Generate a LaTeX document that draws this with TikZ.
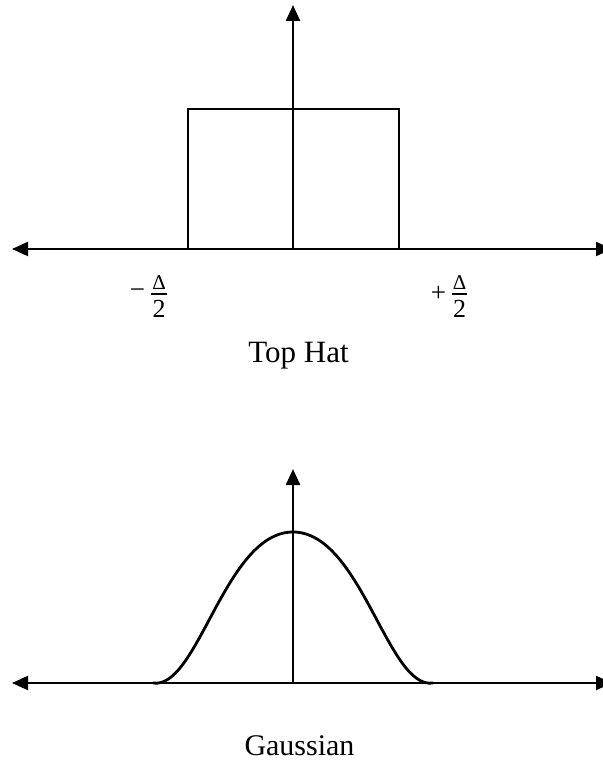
\documentclass[tikz,border=0pt]{standalone}
\usepackage{fontspec}
\setmainfont{Liberation Serif}
\usetikzlibrary{arrows.meta}
\begin{document}
\begin{tikzpicture}[x=1pt,y=-1pt,
  tip/.tip={Triangle[length=16pt,width=14pt]},
  axis/.style={line width=2pt,tip-tip},
  vaxis/.style={line width=2.4pt,-tip},
  curve/.style={line width=2.8pt},
  lbl/.style={inner sep=0pt,font=\fontsize{31}{34}\selectfont},
  num/.style={inner sep=0pt,font=\fontsize{26}{28}\selectfont},
  dlt/.style={inner sep=0pt,font=\fontsize{21}{22}\selectfont},
  sgn/.style={inner sep=0pt,font=\fontsize{27}{28}\selectfont},
  bar/.style={line width=1.3pt}]
\useasboundingbox (0,0) rectangle (602,765);
% ---- top hat ----
\coordinate (tl) at (12,249);
\coordinate (tr) at (612,249);
\coordinate (to) at (293,249);
\coordinate (tt) at (293,5);
\draw[axis] (tl) -- (tr);
\draw[vaxis] (to) -- (tt);
\coordinate (b1) at (188,249);
\coordinate (b2) at (188,109);
\coordinate (b3) at (399,109);
\coordinate (b4) at (399,249);
\draw[curve,line join=miter] (b1) -- (b2) -- (b3) -- (b4);
% -Delta/2
\node[sgn] (m) at (137.5,294) {−};
\node[dlt] (d1) at (159,282.5) {Δ};
\coordinate (l1a) at (151,294);
\coordinate (l1b) at (167,294);
\draw[bar] (l1a) -- (l1b);
\node[num] (n1) at (159,309) {2};
% +Delta/2
\node[sgn] (p) at (438.5,294) {+};
\node[dlt] (d2) at (459.5,282.5) {Δ};
\coordinate (l2a) at (452,294);
\coordinate (l2b) at (467,294);
\draw[bar] (l2a) -- (l2b);
\node[num] (n2) at (459.5,309) {2};
\node[lbl,anchor=base] (th) at (298.5,362) {Top Hat};
% ---- gaussian ----
\coordinate (gl) at (12,683);
\coordinate (gr) at (612,683);
\coordinate (go) at (293,683);
\coordinate (gt) at (293,469);
\draw[axis] (gl) -- (gr);
\draw[vaxis] (go) -- (gt);
\coordinate (g0) at (153,683);
\coordinate (gp) at (293,532);
\coordinate (g1) at (433,683);
\draw[curve,line cap=round] (g0) .. controls (198,690) and (225,532) .. (gp)
  .. controls (361,532) and (388,690) .. (g1);
\node[lbl,anchor=base,font=\fontsize{30}{32}\selectfont] (ga) at (299.5,755) {Gaussian};
\end{tikzpicture}
\end{document}
